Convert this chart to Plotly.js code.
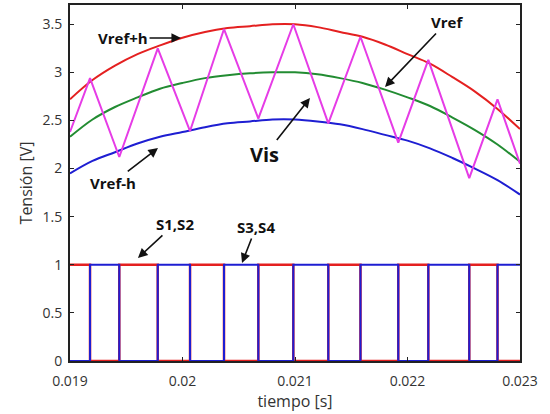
<!DOCTYPE html>
<html>
<head>
<meta charset="utf-8">
<script src="https://cdn.plot.ly/plotly-3.0.1.min.js"></script>
<style>html,body{margin:0;padding:0;background:#fff;}#chart{width:550px;height:414px;}</style>
</head>
<body>
<div id="chart"></div>
<script>
// time grid for reference curves (s)
var tRef = [0.0190,0.0192,0.0194,0.0196,0.0198,0.0200,0.0202,0.0204,0.0206,0.0208,0.0210,
            0.0212,0.0214,0.0216,0.0218,0.0220,0.0222,0.0224,0.0226,0.0228,0.0230];
var vrefPlus = [2.72,2.92,3.07,3.19,3.28,3.36,3.42,3.46,3.48,3.50,3.50,
                3.47,3.42,3.37,3.29,3.19,3.09,2.95,2.80,2.62,2.41];
var vref     = [2.33,2.51,2.64,2.74,2.83,2.89,2.94,2.97,2.99,3.00,3.00,
                2.98,2.94,2.89,2.82,2.74,2.65,2.53,2.40,2.25,2.07];
var vrefMinus= [1.95,2.08,2.17,2.26,2.33,2.38,2.43,2.47,2.49,2.51,2.51,
                2.49,2.46,2.41,2.35,2.29,2.21,2.11,2.00,1.88,1.73];
// Vis triangle vertices
var tVis = [0.019,0.019178,0.019438,0.019780,0.020067,0.020369,0.020674,0.020985,
            0.021296,0.021582,0.021918,0.022185,0.022549,0.022800,0.023];
var vVis = [2.38,2.94,2.12,3.25,2.39,3.45,2.52,3.50,2.47,3.37,2.27,3.13,1.90,2.72,2.05];
// switching signals (step, held from each time)
var tSw  = [0.019,0.019178,0.019438,0.019780,0.020067,0.020369,0.020674,0.020985,
            0.021296,0.021582,0.021918,0.022185,0.022549,0.022800,0.023];
var s12  = [1,0,1,0,1,0,1,0,1,0,1,0,1,0,0];
var s34  = [0,1,0,1,0,1,0,1,0,1,0,1,0,1,1];
var xTicks = [0.019,0.020,0.021,0.022,0.023];
var xTickText = ["0.019","0.02","0.021","0.022","0.023"];
var yTicks = [0,0.5,1,1.5,2,2.5,3,3.5];
var yTickText = ["0","0.5","1","1.5","2","2.5","3","3.5"];

var RED='rgb(228,32,32)', GREEN='rgb(34,140,50)', BLUE='rgb(30,30,210)', MAG='rgb(230,60,230)';
var traces = [
  {x:tRef,y:vrefPlus,mode:'lines',line:{color:RED,width:2,shape:'spline',smoothing:1},type:'scatter'},
  {x:tRef,y:vref,mode:'lines',line:{color:GREEN,width:2,shape:'spline',smoothing:1},type:'scatter'},
  {x:tRef,y:vrefMinus,mode:'lines',line:{color:BLUE,width:2,shape:'spline',smoothing:1},type:'scatter'},
  {x:tVis,y:vVis,mode:'lines',line:{color:MAG,width:2},type:'scatter'},
  {x:tSw,y:s12,mode:'lines',line:{color:RED,width:2.5,shape:'hv'},type:'scatter'},
  {x:tSw,y:s34,mode:'lines',line:{color:BLUE,width:2,shape:'hv'},type:'scatter'}
];
var afont = {family:'Open Sans, sans-serif',size:15,color:'#111',weight:'bold'};
function ann(text,x,y,ax,ay,size){
  var f = Object.assign({},afont); if(size) f.size=size;
  return {x:x,y:y,xref:'x',yref:'y',ax:ax,ay:ay,text:'<b>'+text+'</b>',showarrow:true,
          arrowhead:2,arrowsize:1.2,arrowwidth:1.6,arrowcolor:'#111',font:f,standoff:0};
}
var layout = {
  width:550,height:414,
  margin:{l:70,r:30,t:5,b:53},
  paper_bgcolor:'#fff',plot_bgcolor:'#fff',
  showlegend:false,
  font:{family:'Open Sans, sans-serif',size:14,color:'#333'},
  xaxis:{range:[0.019,0.023],tickvals:xTicks,ticktext:xTickText,ticks:'inside',ticklen:4,
         tickcolor:'#222',showline:true,linecolor:'#222',linewidth:2,mirror:'ticks',
         ticklabelstandoff:6,
         showgrid:false,zeroline:false,title:{text:'tiempo [s]',font:{size:16,color:'#333'},standoff:0}},
  yaxis:{range:[0,3.7],tickvals:yTicks,ticktext:yTickText,ticks:'inside',ticklen:4,
         tickcolor:'#222',showline:true,linecolor:'#222',linewidth:2,mirror:'ticks',
         ticklabelstandoff:3,
         showgrid:false,zeroline:false,title:{text:'Tensión [V]',font:{size:16,color:'#333'},standoff:6}},
  annotations:[
    ann('Vref+h',0.019987,3.357,-58,0),
    ann('Vref',0.0218,2.848,62,-65),
    ann('Vis',0.021133,2.734,-45,57,20),
    ann('Vref-h',0.019782,2.214,-45,35),
    ann('S1,S2',0.019604,1.071,37,-34),
    ann('S3,S4',0.020529,1.019,14,-36)
  ]
};
Plotly.newPlot('chart',traces,layout,{staticPlot:true,displayModeBar:false});
</script>
</body>
</html>
